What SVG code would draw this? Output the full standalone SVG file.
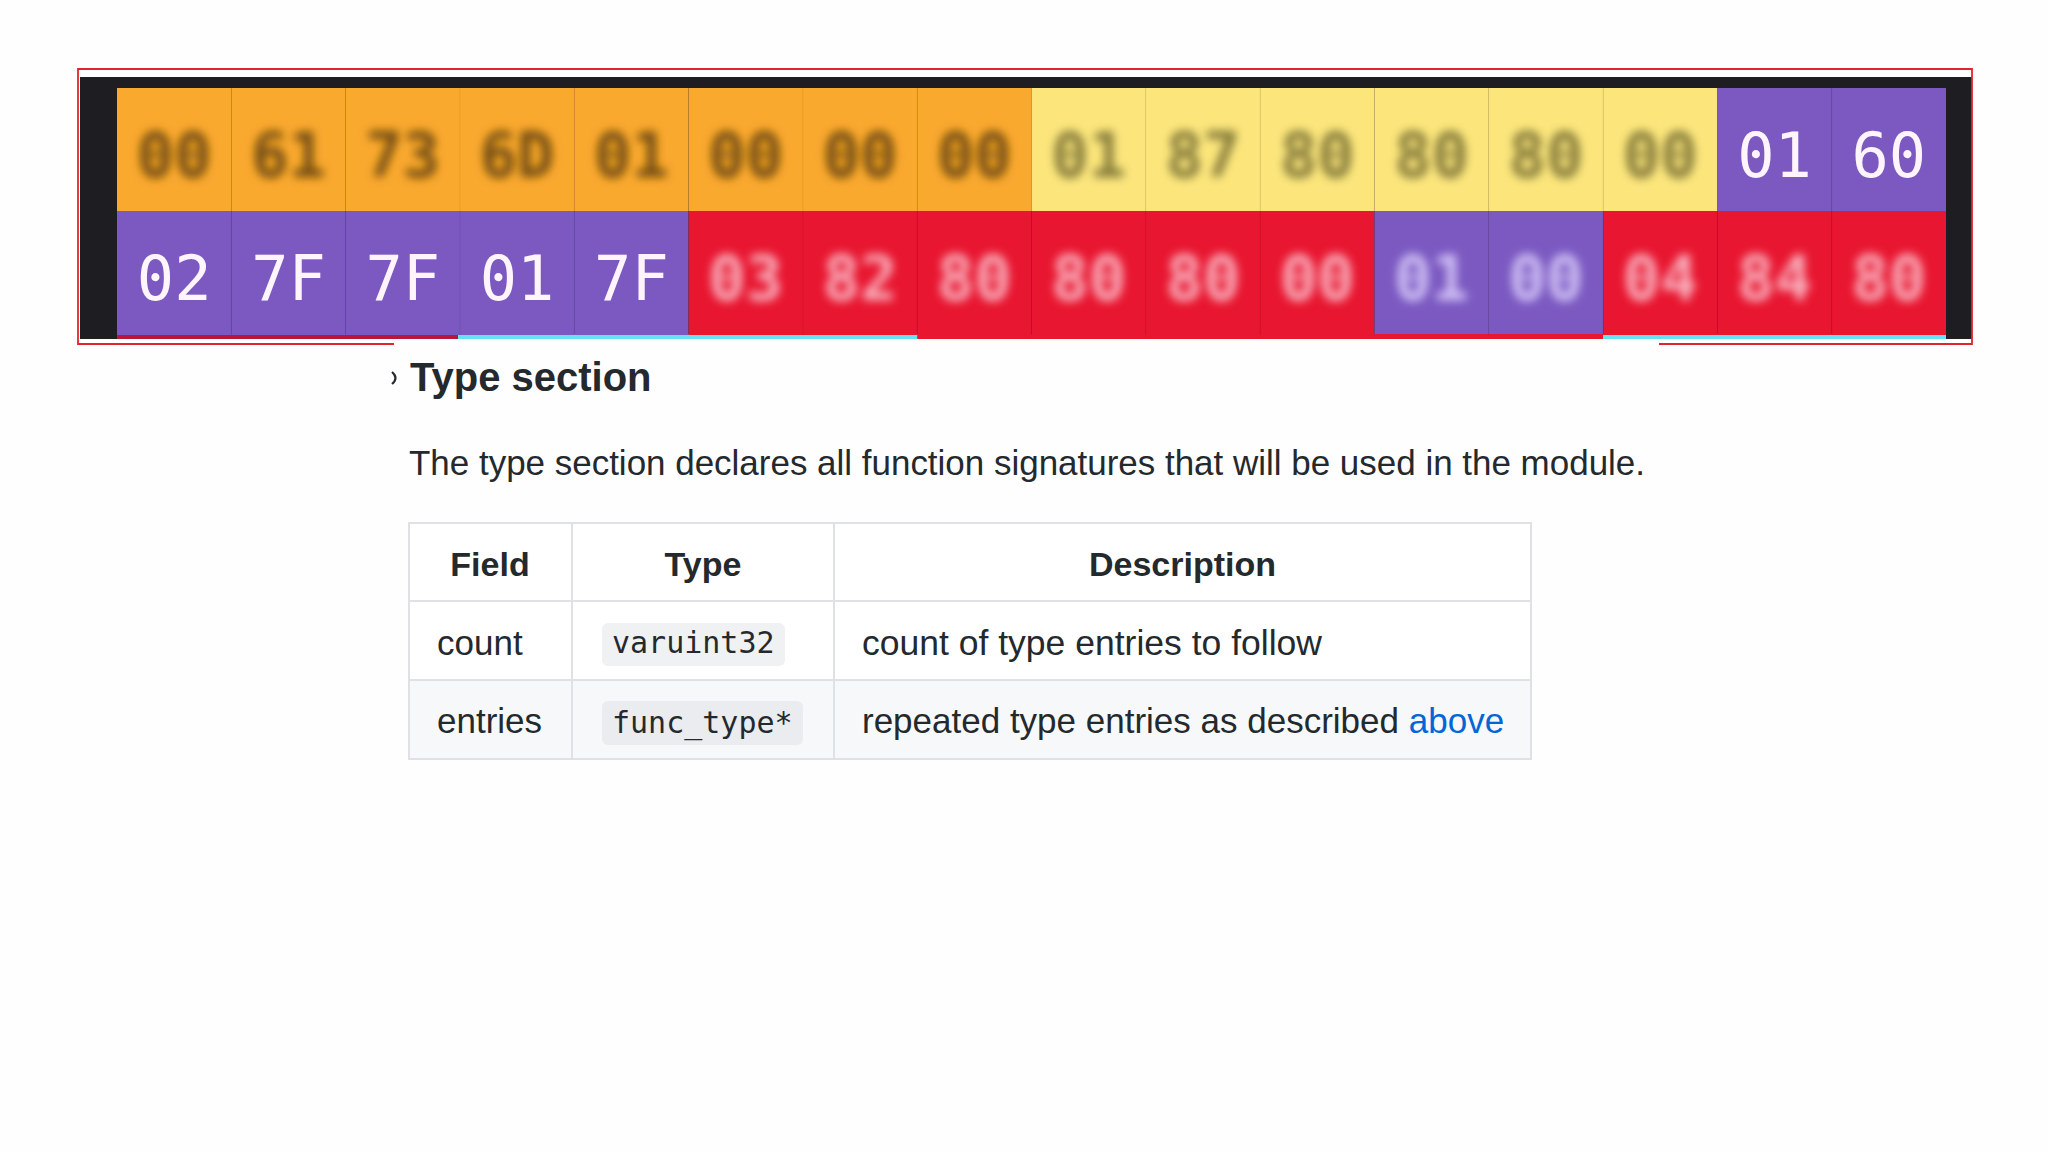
<svg xmlns="http://www.w3.org/2000/svg" width="2048" height="1152" viewBox="0 0 2048 1152">
<defs>
<filter id="blur" x="-30%" y="-30%" width="160%" height="160%"><feGaussianBlur stdDeviation="5"/></filter>
<style>
.or{fill:#FAA92F}.ye{fill:#FCE67C}.pu{fill:#7B59C1}.rd{fill:#E81630}
.hx{font-family:"DejaVu Sans Mono","Liberation Mono",monospace;font-size:62px;text-anchor:middle}
.wt{fill:#FDF4FC}
.bl{filter:url(#blur);font-weight:bold}
.t-or{fill:#6E4A0C}.t-ye{fill:#807738}.t-rd{fill:#F9B3C0}.t-pu{fill:#D3C4F7}
.div{stroke:#000;stroke-opacity:0.07;stroke-width:1}
.body{font-family:"Liberation Sans",Arial,sans-serif;font-size:35px;fill:#24292E}
.hd{font-family:"Liberation Sans",Arial,sans-serif;font-size:34px;font-weight:bold;fill:#24292E;text-anchor:middle}
.code{font-family:"DejaVu Sans Mono","Liberation Mono",monospace;font-size:30px;fill:#24292E}
.grid{stroke:#DFE2E5;stroke-width:2}
</style>
</defs>
<rect width="2048" height="1152" fill="#FEFEFE"/>

<g id="byte-strip">
<rect x="80" y="77" width="1892" height="262" fill="#1E1E22"/>
<!-- row 1 -->
<g id="r1c0"><rect class="or" x="117" y="88" width="114.4" height="123"/><text class="hx bl t-or" x="174.2" y="177">00</text></g>
<g id="r1c1"><rect class="or" x="231.3" y="88" width="114.4" height="123"/><text class="hx bl t-or" x="288.5" y="177">61</text></g>
<g id="r1c2"><rect class="or" x="345.6" y="88" width="114.4" height="123"/><text class="hx bl t-or" x="402.8" y="177">73</text></g>
<g id="r1c3"><rect class="or" x="459.9" y="88" width="114.4" height="123"/><text class="hx bl t-or" x="517.1" y="177">6D</text></g>
<g id="r1c4"><rect class="or" x="574.2" y="88" width="114.4" height="123"/><text class="hx bl t-or" x="631.4" y="177">01</text></g>
<g id="r1c5"><rect class="or" x="688.6" y="88" width="114.4" height="123"/><text class="hx bl t-or" x="745.7" y="177">00</text></g>
<g id="r1c6"><rect class="or" x="802.9" y="88" width="114.4" height="123"/><text class="hx bl t-or" x="860" y="177">00</text></g>
<g id="r1c7"><rect class="or" x="917.2" y="88" width="114.4" height="123"/><text class="hx bl t-or" x="974.3" y="177">00</text></g>
<g id="r1c8"><rect class="ye" x="1031.5" y="88" width="114.4" height="123"/><text class="hx bl t-ye" x="1088.7" y="177">01</text></g>
<g id="r1c9"><rect class="ye" x="1145.8" y="88" width="114.4" height="123"/><text class="hx bl t-ye" x="1203" y="177">87</text></g>
<g id="r1c10"><rect class="ye" x="1260.1" y="88" width="114.4" height="123"/><text class="hx bl t-ye" x="1317.3" y="177">80</text></g>
<g id="r1c11"><rect class="ye" x="1374.4" y="88" width="114.4" height="123"/><text class="hx bl t-ye" x="1431.6" y="177">80</text></g>
<g id="r1c12"><rect class="ye" x="1488.7" y="88" width="114.4" height="123"/><text class="hx bl t-ye" x="1545.9" y="177">80</text></g>
<g id="r1c13"><rect class="ye" x="1603.1" y="88" width="114.4" height="123"/><text class="hx bl t-ye" x="1660.2" y="177">00</text></g>
<g id="r1c14"><rect class="pu" x="1717.4" y="88" width="114.4" height="123"/><text class="hx wt" x="1774.5" y="177">01</text></g>
<g id="r1c15"><rect class="pu" x="1831.7" y="88" width="114.3" height="123"/><text class="hx wt" x="1888.8" y="177">60</text></g>
<!-- bottom accent strip -->
<rect x="117" y="334" width="341" height="5" fill="#B8163A"/>
<rect x="458" y="334" width="461" height="5" fill="#63E4F0"/>
<rect x="919" y="334" width="684" height="5" fill="#E81630"/>
<rect x="1603" y="334" width="343" height="5" fill="#63E4F0"/>
<!-- row 2 -->
<g id="r2c0"><rect class="pu" x="117" y="211" width="114.4" height="124"/><text class="hx wt" x="174.2" y="300">02</text></g>
<g id="r2c1"><rect class="pu" x="231.3" y="211" width="114.4" height="124"/><text class="hx wt" x="288.5" y="300">7F</text></g>
<g id="r2c2"><rect class="pu" x="345.6" y="211" width="114.4" height="124"/><text class="hx wt" x="402.8" y="300">7F</text></g>
<g id="r2c3"><rect class="pu" x="459.9" y="211" width="114.4" height="124"/><text class="hx wt" x="517.1" y="300">01</text></g>
<g id="r2c4"><rect class="pu" x="574.2" y="211" width="114.4" height="124"/><text class="hx wt" x="631.4" y="300">7F</text></g>
<g id="r2c5"><rect class="rd" x="688.6" y="211" width="114.4" height="124"/><text class="hx bl t-rd" x="745.7" y="300">03</text></g>
<g id="r2c6"><rect class="rd" x="802.9" y="211" width="114.4" height="124"/><text class="hx bl t-rd" x="860" y="300">82</text></g>
<g id="r2c7"><rect class="rd" x="917.2" y="211" width="114.4" height="128"/><text class="hx bl t-rd" x="974.3" y="300">80</text></g>
<g id="r2c8"><rect class="rd" x="1031.5" y="211" width="114.4" height="128"/><text class="hx bl t-rd" x="1088.7" y="300">80</text></g>
<g id="r2c9"><rect class="rd" x="1145.8" y="211" width="114.4" height="128"/><text class="hx bl t-rd" x="1203" y="300">80</text></g>
<g id="r2c10"><rect class="rd" x="1260.1" y="211" width="114.4" height="128"/><text class="hx bl t-rd" x="1317.3" y="300">00</text></g>
<g id="r2c11"><rect class="pu" x="1374.4" y="211" width="114.4" height="123"/><text class="hx bl t-pu" x="1431.6" y="300">01</text></g>
<g id="r2c12"><rect class="pu" x="1488.7" y="211" width="114.4" height="123"/><text class="hx bl t-pu" x="1545.9" y="300">00</text></g>
<g id="r2c13"><rect class="rd" x="1603.1" y="211" width="114.4" height="124"/><text class="hx bl t-rd" x="1660.2" y="300">04</text></g>
<g id="r2c14"><rect class="rd" x="1717.4" y="211" width="114.4" height="124"/><text class="hx bl t-rd" x="1774.5" y="300">84</text></g>
<g id="r2c15"><rect class="rd" x="1831.7" y="211" width="114.3" height="124"/><text class="hx bl t-rd" x="1888.8" y="300">80</text></g>
<!-- faint cell dividers -->
<path class="div" d="M231.3 88V335M345.6 88V335M459.9 88V335M574.2 88V335M688.6 88V335M802.9 88V335M917.2 88V335M1031.5 88V335M1145.8 88V335M1260.1 88V335M1374.4 88V335M1488.7 88V335M1603.1 88V335M1717.4 88V335M1831.7 88V335"/>
<!-- red selection frame -->
<path d="M394 344H78V69H1972V344H1659" fill="none" stroke="#E0262B" stroke-width="1.8"/>
</g>

<g id="heading">
<path d="M392 372q7 6 0 12" fill="none" stroke="#24292E" stroke-width="2.2"/>
<text x="410" y="391" font-family="'Liberation Sans',Arial,sans-serif" font-size="40" font-weight="bold" fill="#24292E">Type section</text>
</g>

<g id="paragraph">
<text class="body" x="409" y="475" textLength="1236" lengthAdjust="spacingAndGlyphs">The type section declares all function signatures that will be used in the module.</text>
</g>

<g id="type-table">
<rect x="409" y="523" width="1122" height="236" fill="#FFFFFF"/>
<rect x="409" y="680" width="1122" height="79" fill="#F6F8FA"/>
<path class="grid" d="M409 601H1531M409 680H1531M572 523V759M834 523V759" fill="none"/>
<rect class="grid" x="409" y="523" width="1122" height="236" fill="none"/>
<text class="hd" x="490" y="576">Field</text>
<text class="hd" x="703" y="576">Type</text>
<text class="hd" x="1182.5" y="576">Description</text>
<rect x="602" y="623" width="183" height="43" rx="6" fill="#F0F1F3"/>
<rect x="602" y="701" width="201" height="44" rx="6" fill="#EAECEF"/>
<text class="body" x="437" y="655">count</text>
<text class="code" x="612" y="653">varuint32</text>
<text class="body" x="862" y="655" textLength="460" lengthAdjust="spacingAndGlyphs">count of type entries to follow</text>
<text class="body" x="437" y="733">entries</text>
<text class="code" x="612" y="733">func_type*</text>
<text class="body" x="862" y="733">repeated type entries as described <tspan fill="#0366D6">above</tspan></text>
</g>
<g id="connectors"/>
</svg>
